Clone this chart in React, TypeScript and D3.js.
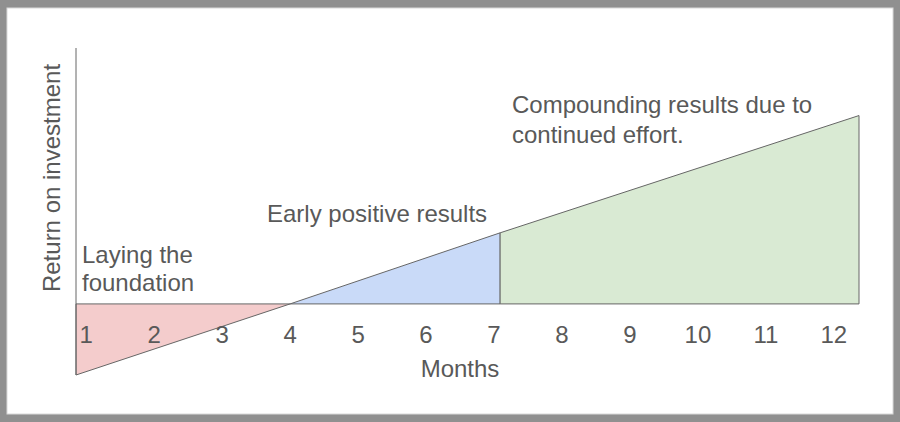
import React from "react";
import * as d3 from "d3";

// return curve: month -> relative ROI
const roiMonths = [0.85, 4, 7.09, 12.37];
const roiValues = [-1, 0, 1, 2.65];

const monthTicks = [1, 2, 3, 4, 5, 6, 7, 8, 9, 10, 11, 12];

const phaseFills = ["#f4cccc", "#c9daf8", "#d9ead3"];
const phaseLabels = [
  ["Laying the", "foundation"],
  ["Early positive results"],
  ["Compounding results due to", "continued effort."],
];

const xTitle = "Months";
const yTitle = "Return on investment";

const W = 900;
const H = 422;
const FONT = "'Liberation Sans', Arial, sans-serif";
const TEXT = "#595959";
const LINE = "#666666";

const App = () => {
  const x = d3
    .scaleLinear()
    .domain([roiMonths[0], roiMonths[roiMonths.length - 1]])
    .range([76, 859]);
  const y = d3.scaleLinear().domain([-1, 3.6]).range([375, 48]);

  const pts = roiMonths.map((m, i) => ({ m, v: roiValues[i] }));

  const area = d3
    .area<{ m: number; v: number }>()
    .x((d) => x(d.m))
    .y0(y(0))
    .y1((d) => y(d.v));

  // where each phase label sits (layout only)
  const labelPos = [
    { x: 82, y: 263, lh: 28 },
    { x: 267, y: 222, lh: 28 },
    { x: 512, y: 113, lh: 30 },
  ];

  return (
    <svg
      width={W}
      height={H}
      style={{ position: "absolute", left: 0, top: 0 }}
      fontFamily={FONT}
    >
      <rect width={W} height={H} fill="#909090" />
      <rect x={7} y={8} width={886} height={406} fill="#ffffff" stroke="#d9d9d9" />

      {pts.slice(0, -1).map((p, i) => (
        <path
          key={i}
          d={area([p, pts[i + 1]]) || ""}
          fill={phaseFills[i]}
          stroke={LINE}
          strokeWidth={1}
          strokeLinejoin="round"
        />
      ))}

      {/* y axis */}
      <line
        x1={x(roiMonths[0])}
        x2={x(roiMonths[0])}
        y1={y(3.6)}
        y2={y(-1)}
        stroke={LINE}
        strokeWidth={1}
      />

      {monthTicks.map((m) => (
        <text
          key={m}
          x={x(m)}
          y={343}
          textAnchor="middle"
          fontSize={24}
          fill={TEXT}
        >
          {m}
        </text>
      ))}

      <text x={460} y={377} textAnchor="middle" fontSize={24} fill={TEXT}>
        {xTitle}
      </text>
      <text
        transform="translate(60,178) rotate(-90)"
        textAnchor="middle"
        fontSize={24}
        fill={TEXT}
      >
        {yTitle}
      </text>

      {phaseLabels.map((lines, i) => (
        <text key={i} fontSize={24} fill={TEXT}>
          {lines.map((t, j) => (
            <tspan key={j} x={labelPos[i].x} y={labelPos[i].y + j * labelPos[i].lh}>
              {t}
            </tspan>
          ))}
        </text>
      ))}
    </svg>
  );
};

export default App;
